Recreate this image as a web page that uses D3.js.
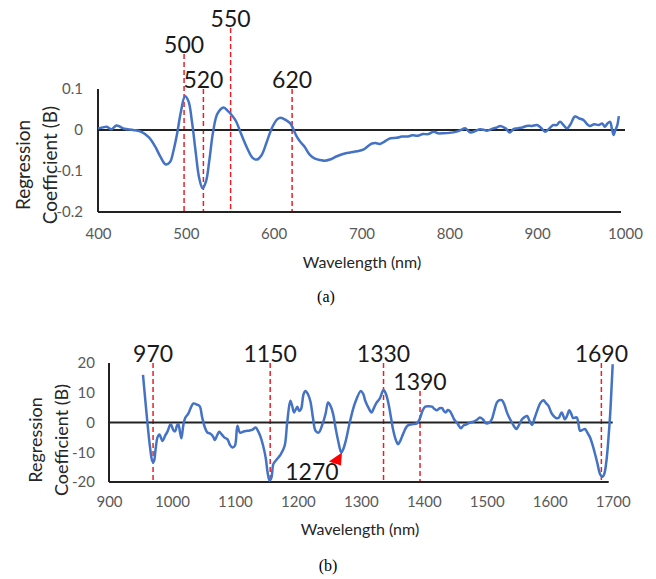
<!DOCTYPE html>
<html>
<head>
<meta charset="utf-8">
<script src="https://cdn.jsdelivr.net/npm/d3@7"></script>
<style>
  body { margin: 0; background: #fff; }
  svg { display: block; }
  text { font-family: Lato, "Open Sans", sans-serif; }
</style>
</head>
<body>
<div id="chart"></div>
<script>
// ---- panel (a): 400-1000 nm ----
const aWavelength = [400, 405, 410, 415, 421, 425, 430, 440, 450, 458, 465, 471, 477, 482, 486, 490, 494, 499, 503, 507,
  511, 515, 519, 523, 527, 531, 536, 543, 548, 552, 557, 563, 570, 576, 581, 586, 592, 598, 604, 608,
  614, 619, 622, 626, 630, 635, 641, 647, 653, 658, 664, 672, 680, 687, 695, 702, 707, 712, 716, 721,
  727, 733, 740, 746, 752, 758, 764, 770, 776, 782, 787, 793, 800, 808, 813, 818, 824, 830, 835, 840,
  843, 850, 854, 858, 864, 869, 873, 877, 883, 888, 894, 900, 904, 909, 913, 918, 922, 926, 930, 934,
  938, 943, 948, 953, 957, 960, 965, 970, 974, 977, 980, 983, 985, 987, 989, 991, 993];
const aCoef = [0.004, 0.006, 0.008, 0.002, 0.011, 0.008, 0.003, 0.000, -0.005, -0.018, -0.040, -0.065, -0.084, -0.078, -0.050, -0.010, 0.040, 0.082, 0.070, 0.020,
  -0.050, -0.115, -0.142, -0.125, -0.070, -0.005, 0.040, 0.055, 0.046, 0.037, 0.022, -0.010, -0.045, -0.068, -0.072, -0.062, -0.030, 0.005, 0.026, 0.030,
  0.024, 0.016, 0.004, -0.015, -0.028, -0.040, -0.060, -0.070, -0.073, -0.075, -0.072, -0.064, -0.058, -0.055, -0.052, -0.048, -0.040, -0.033, -0.032, -0.034,
  -0.027, -0.020, -0.019, -0.016, -0.016, -0.013, -0.014, -0.010, -0.010, -0.004, -0.008, -0.008, -0.007, -0.004, 0.000, 0.004, -0.006, -0.002, 0.002, 0.000,
  -0.002, 0.004, 0.006, 0.010, 0.004, -0.006, 0.002, 0.004, 0.006, 0.010, 0.010, 0.012, 0.006, -0.004, 0.002, 0.012, 0.012, 0.020, 0.012, 0.004,
  0.014, 0.033, 0.028, 0.024, 0.014, 0.010, 0.014, 0.012, 0.016, 0.008, 0.016, 0.020, 0.004, -0.012, 0.000, 0.010, 0.034];
const aXTicks = [400, 500, 600, 700, 800, 900, 1000];
const aYTicks = [-0.2, -0.1, 0, 0.1];
const aMarkLabels = ["500", "520", "550", "620"];
const aMarkAt = [498, 520, 551, 621];
const aMarkTier = [1, 0, 2, 0];

// ---- panel (b): 900-1700 nm ----
const bWavelength = [954, 957, 961, 965, 969, 971, 974, 977, 980, 985, 989, 993, 998, 1002, 1005, 1008, 1010, 1013, 1015, 1018,
  1021, 1026, 1030, 1034, 1040, 1044, 1048, 1052, 1056, 1062, 1066, 1068, 1072, 1075, 1079, 1083, 1088, 1092, 1096, 1100,
  1104, 1108, 1114, 1120, 1127, 1133, 1137, 1141, 1145, 1149, 1152, 1155, 1158, 1161, 1165, 1170, 1173, 1179, 1183, 1188,
  1191, 1194, 1199, 1202, 1205, 1209, 1212, 1216, 1220, 1224, 1228, 1233, 1239, 1244, 1248, 1252, 1256, 1260, 1264, 1269,
  1272, 1276, 1283, 1291, 1300, 1304, 1307, 1312, 1317, 1321, 1325, 1330, 1336, 1340, 1344, 1348, 1351, 1355, 1359, 1363,
  1367, 1374, 1381, 1389, 1394, 1398, 1402, 1407, 1413, 1417, 1421, 1425, 1429, 1432, 1435, 1438, 1441, 1445, 1448, 1454,
  1459, 1463, 1468, 1474, 1479, 1485, 1489, 1494, 1499, 1504, 1508, 1512, 1516, 1520, 1524, 1528, 1532, 1536, 1540, 1544,
  1547, 1552, 1556, 1560, 1564, 1568, 1572, 1576, 1580, 1585, 1590, 1594, 1598, 1602, 1606, 1610, 1614, 1619, 1624, 1628,
  1631, 1634, 1637, 1640, 1643, 1646, 1648, 1652, 1656, 1660, 1664, 1668, 1672, 1676, 1680, 1684, 1687, 1690, 1693, 1696,
  1698, 1700];
const bCoef = [16, 9, 0, -8, -13, -13.2, -9, -5, -4, -6.2, -4.5, -3, -0.5, -2.5, -3, -1, -0.5, -3.5, -5.3, -1,
  1.5, 3, 5, 6.4, 6, 5.5, 1.7, -1.5, -3.3, -3.9, -5, -5.9, -4.2, -3.1, -4, -5, -5.6, -7.5, -8.4, -7.8,
  -1.1, -3.4, -3, -2.8, -2.5, -1.7, -3, -5, -8, -12, -17, -19.5, -18.5, -14, -12.8, -11.5, -10.6, -7.8, 0, 7.3,
  5.5, 3.4, 5.3, 3.9, 4.5, 9.5, 10.6, 9.5, 7, 1.5, -2.8, -3.4, -0.6, 3, 6.7, 5.5, 2.8, -2, -6.2, -10.1,
  -9, -6.2, 0.6, 6.7, 10.6, 9.5, 7.3, 5, 3.4, 5, 6.7, 8, 10.9, 9.5, 6.2, 1.5, -2.2, -5.5, -7.3, -6,
  -3.9, -1.1, -0.6, -0.3, 1.5, 4, 5.3, 5.5, 5.3, 4.5, 4.1, 4.8, 4.8, 3.8, 3.4, 4.2, 3.9, 2.5, 1.1, -0.5,
  -1.9, -1, -0.6, 0, 0.3, 1, 1.7, 1, -0.3, 0, 1.1, 4, 6.7, 7.5, 7.5, 6, 3.4, 1.5, 0, -1.5,
  -2.2, -0.5, 1.1, 1.8, 2.2, 0.5, -0.8, 1.5, 3.9, 6.5, 7.5, 6.5, 5.6, 3.5, 2.2, 1.5, 1.5, 3.4, 1.1, 2.5,
  4.1, 3, 1.5, 1.6, 1.7, -1, -2.8, -2.5, -2.2, -3.5, -5, -7.5, -10.6, -14, -17.4, -18.2, -17, -13, -6, 2.8,
  11, 19.6];
const bXTicks = [900, 1000, 1100, 1200, 1300, 1400, 1500, 1600, 1700];
const bYTicks = [-20, -10, 0, 10, 20];
const bMarkLabels = ["970", "1150", "1330", "1390", "1690"];
const bMarkAt = [970, 1156, 1336, 1394, 1682];
const bMarkTier = [0, 0, 0, -1, 0];
const bArrowAt = [1270, -10.1];
const bArrowLabel = "1270";

const W = 656, H = 579;

const svg = d3.select("#chart").append("svg")
  .attr("width", W)
  .attr("height", H);

// Excel writes a plain hyphen for negatives
const hyphen = f => d => f(d).replace("\u2212", "-");

class CoefPlot {
  constructor(svg, cfg) {
    this.svg = svg;
    this.cfg = cfg;
    this.initVis();
  }

  initVis() {
    const vis = this;
    const c = vis.cfg;

    vis.g = vis.svg.append("g");
    vis.x = d3.scaleLinear().domain(c.xDomain).range([c.left, c.right]);
    vis.y = d3.scaleLinear().domain(c.yDomain).range([c.bottom, c.top]);

    // tick labels (no tick marks, Excel style)
    vis.g.append("g")
      .attr("transform", `translate(0, ${c.bottom})`)
      .call(d3.axisBottom(vis.x).tickValues(c.xTicks).tickSize(0).tickPadding(c.xPad).tickFormat(d3.format("d")))
      .call(g => g.select(".domain").remove())
      .selectAll("text")
      .style("font-size", "15px")
      .attr("fill", "#595959");

    vis.g.append("g")
      .attr("transform", `translate(${c.left}, 0)`)
      .call(d3.axisLeft(vis.y).tickValues(c.yTicks).tickSize(0).tickPadding(c.yPad).tickFormat(c.yFormat))
      .call(g => g.select(".domain").remove())
      .selectAll("text")
      .style("font-size", "15px")
      .attr("fill", "#595959");

    // red dashed markers
    const marks = c.markLabels.map((lab, i) => ({ lab, at: c.markAt[i], tier: c.markTier[i] }));
    vis.g.selectAll(".mark")
      .data(marks)
      .join("line")
      .attr("class", "mark")
      .attr("x1", d => vis.x(d.at))
      .attr("x2", d => vis.x(d.at))
      .attr("y1", d => c.top + c.tierShift(d.tier))
      .attr("y2", c.bottom)
      .attr("stroke", "#e8202a")
      .attr("stroke-width", 1.5)
      .attr("stroke-dasharray", "5,3");

    vis.g.selectAll(".markLabel")
      .data(marks)
      .join("text")
      .attr("class", "markLabel")
      .attr("x", d => vis.x(d.at))
      .attr("y", d => c.top + c.tierShift(d.tier) - 1)
      .attr("text-anchor", "middle")
      .style("font-size", "23px")
      .attr("fill", "#1a1a1a")
      .text(d => d.lab);

    // axis lines
    vis.g.append("line")
      .attr("x1", c.left).attr("x2", c.left)
      .attr("y1", c.top).attr("y2", c.bottom)
      .attr("stroke", "#222").attr("stroke-width", 2);
    vis.g.append("line")
      .attr("x1", c.left).attr("x2", c.right - 4)
      .attr("y1", c.bottom).attr("y2", c.bottom)
      .attr("stroke", "#222").attr("stroke-width", 2);
    vis.g.append("line")
      .attr("x1", c.left).attr("x2", c.right)
      .attr("y1", vis.y(0)).attr("y2", vis.y(0))
      .attr("stroke", "#222").attr("stroke-width", 2);

    // spectrum line
    const pts = c.xs.map((w, i) => [w, c.ys[i]]);
    vis.g.append("path")
      .datum(pts)
      .attr("fill", "none")
      .attr("stroke", "#4472c4")
      .attr("stroke-width", 2.5)
      .attr("stroke-linejoin", "round")
      .attr("d", d3.line().x(d => vis.x(d[0])).y(d => vis.y(d[1])).curve(d3.curveCatmullRom.alpha(0.5)));

    // axis titles
    vis.g.append("text")
      .attr("x", c.xTitlePos[0])
      .attr("y", c.xTitlePos[1])
      .attr("text-anchor", "middle")
      .attr("dominant-baseline", "central")
      .style("font-size", "16px")
      .attr("fill", "#262626")
      .text("Wavelength (nm)");

    const yt = vis.g.append("text")
      .attr("transform", `translate(${c.yTitlePos[0]}, ${c.yTitlePos[1]}) rotate(-90)`)
      .attr("text-anchor", "middle")
      .style("font-size", c.yTitleSize + "px")
      .attr("fill", "#262626");
    yt.append("tspan").attr("x", 0).attr("dy", "0.35em").text("Regression");
    yt.append("tspan").attr("x", 0).attr("dy", c.yTitleGap).text("Coefficient (B)");

    // panel caption
    vis.g.append("text")
      .attr("x", c.captionPos[0])
      .attr("y", c.captionPos[1])
      .attr("text-anchor", "middle")
      .attr("dominant-baseline", "central")
      .style("font-family", "'Liberation Serif', 'Times New Roman', serif")
      .style("font-size", "16px")
      .attr("fill", "#000")
      .text(c.caption);
  }
}

const plotA = new CoefPlot(svg, {
  xs: aWavelength, ys: aCoef,
  xDomain: [400, 1000], yDomain: [-0.2, 0.1],
  left: 98, right: 625, top: 89, bottom: 212,
  xTicks: aXTicks, yTicks: aYTicks,
  xPad: 16, yPad: 15,
  yFormat: hyphen(d => d === 0 ? "0" : d3.format(".1f")(d)),
  markLabels: aMarkLabels, markAt: aMarkAt, markTier: aMarkTier,
  tierShift: t => [0, -35, -61][t],
  xTitlePos: [362, 261], yTitlePos: [23, 165], yTitleSize: 19, yTitleGap: 27,
  caption: "(a)", captionPos: [326, 296]
});

const plotB = new CoefPlot(svg, {
  xs: bWavelength, ys: bCoef,
  xDomain: [900, 1700], yDomain: [-20, 20],
  left: 109, right: 612.7, top: 363, bottom: 482,
  xTicks: bXTicks, yTicks: bYTicks,
  xPad: 14, yPad: 14,
  yFormat: hyphen(d3.format("d")),
  markLabels: bMarkLabels, markAt: bMarkAt, markTier: bMarkTier,
  tierShift: t => t < 0 ? 28 : 0,
  xTitlePos: [360, 528], yTitlePos: [36, 440], yTitleSize: 18, yTitleGap: 26,
  caption: "(b)", captionPos: [328, 565]
});

// red arrowhead pointing at the 1270 dip
const tip = [plotB.x(bArrowAt[0]), plotB.y(bArrowAt[1])];
plotB.g.append("path")
  .attr("d", `M${tip[0]},${tip[1]} L${tip[0] - 13},${tip[1] + 9} L${tip[0] - 1},${tip[1] + 13} Z`)
  .attr("fill", "#ff0000");
plotB.g.append("text")
  .attr("x", tip[0] - 30)
  .attr("y", plotB.y(-19.2))
  .attr("text-anchor", "middle")
  .style("font-size", "23px")
  .attr("fill", "#1a1a1a")
  .text(bArrowLabel);
</script>
</body>
</html>
